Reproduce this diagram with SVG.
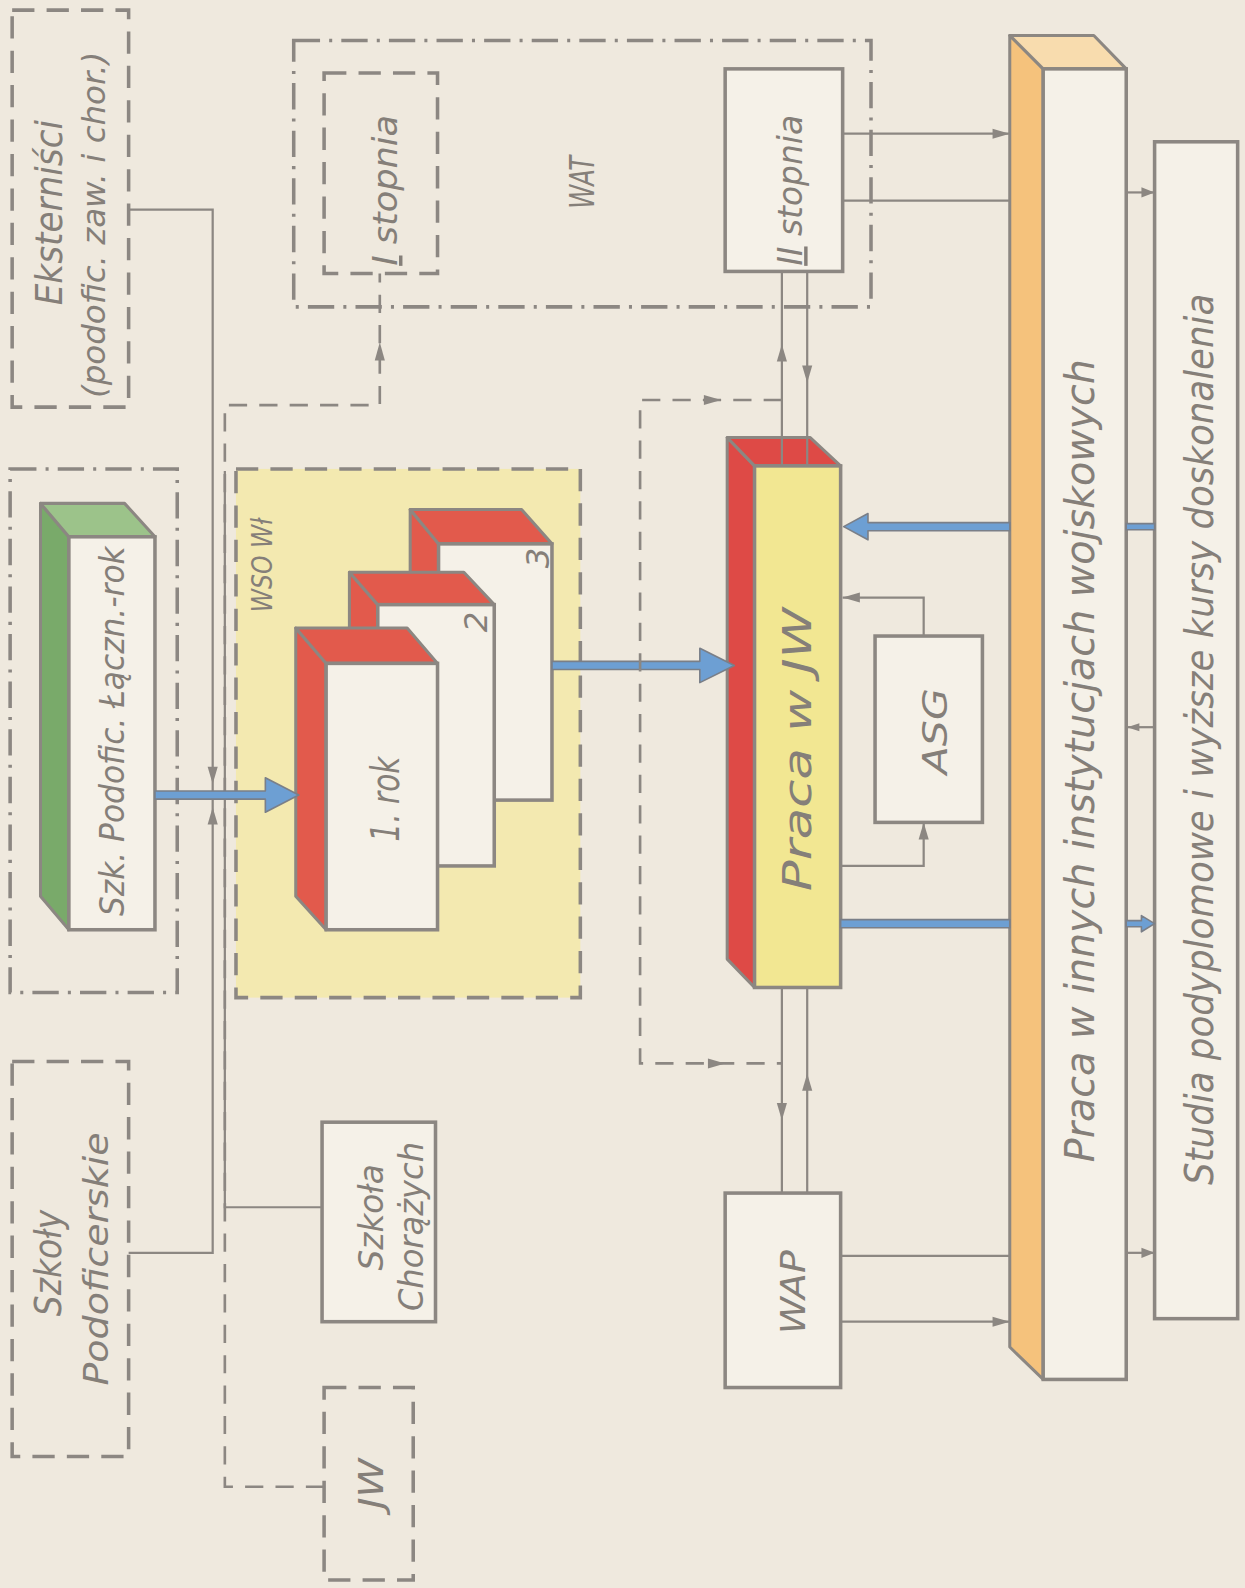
<svg xmlns="http://www.w3.org/2000/svg" width="1245" height="1588" viewBox="0 0 1245 1588">
<defs>
<style>
.bx{fill:none;stroke:#8c8782;stroke-width:3.5}
.sb{fill:#f5f1e8;stroke:#8c8782;stroke-width:3.5}
.dash{stroke-dasharray:22 12}
.dd{stroke-dasharray:26 9 3 9}
.ln{fill:none;stroke:#8c8782;stroke-width:2.2}
.dl{fill:none;stroke:#8c8782;stroke-width:2.6;stroke-dasharray:18 12}
.ah{fill:#8c8782}
.blue{fill:#6d9fd3;stroke:#7a7f88;stroke-width:1.6;stroke-linejoin:round}
.red{fill:#e25a4c;stroke:#8c8782;stroke-width:3;stroke-linejoin:round}
.t{font-family:"DejaVu Sans","Liberation Sans",sans-serif;font-style:italic;font-weight:200;fill:#857f79}
</style>
</defs>
<rect width="1245" height="1588" fill="#efe9de"/>
<g transform="scale(1.0128)">

<g id="eksternisci">
<rect class="bx dash" x="12" y="10" width="115" height="392"/>
<text class="t" font-size="36" text-anchor="middle" textLength="183" lengthAdjust="spacingAndGlyphs" transform="translate(61,210) rotate(-90)">Eksterniści</text>
<text class="t" font-size="32" text-anchor="middle" textLength="342" lengthAdjust="spacingAndGlyphs" transform="translate(104,222) rotate(-90)">(podofic. zaw. i chor.)</text>
</g>

<g id="szkoly-podoficerskie">
<rect class="bx dash" x="12" y="1048" width="115" height="390"/>
<text class="t" font-size="36" text-anchor="middle" textLength="105" lengthAdjust="spacingAndGlyphs" transform="translate(60,1247) rotate(-90)">Szkoły</text>
<text class="t" font-size="33" text-anchor="middle" textLength="250" lengthAdjust="spacingAndGlyphs" transform="translate(107,1243) rotate(-90)">Podoficerskie</text>
</g>

<g id="szk-podofic">
<rect class="bx dd" x="10" y="463" width="165" height="517"/>
<polygon points="40,497 68,530 68,918 40,885" fill="#79aa6a" stroke="#8c8782" stroke-width="3" stroke-linejoin="round"/>
<polygon points="40,497 123,497 153,530 68,530" fill="#9cc38a" stroke="#8c8782" stroke-width="3" stroke-linejoin="round"/>
<rect class="sb" x="68" y="530" width="85" height="388"/>
<text class="t" font-size="33" text-anchor="middle" textLength="365" lengthAdjust="spacingAndGlyphs" transform="translate(122,722) rotate(-90)">Szk. Podofic. Łączn.-rok</text>
</g>

<g id="wso">
<rect x="233" y="463" width="340" height="522" fill="#f5e89c" fill-opacity="0.7"/>
<rect class="bx dash" x="233" y="463" width="340" height="522" stroke-width="3"/>
<text class="t" font-size="28" font-weight="bold" text-anchor="middle" textLength="93" lengthAdjust="spacingAndGlyphs" transform="translate(269,558) rotate(-90)">WSO Wł</text>
</g>

<g id="rok3">
<polygon class="red" points="405,503 433,537 433,790 405,757"/>
<polygon class="red" points="405,503 515,503 545,537 433,537"/>
<rect class="sb" x="433" y="537" width="112" height="253"/>
<text class="t" font-size="32" text-anchor="middle" transform="translate(542,551) rotate(-90)">3</text>
</g>
<g id="rok2">
<polygon class="red" points="345,565 373,597 373,855 345,822"/>
<polygon class="red" points="345,565 458,565 488,597 373,597"/>
<rect class="sb" x="373" y="597" width="115" height="258"/>
<text class="t" font-size="32" text-anchor="middle" transform="translate(481,614) rotate(-90)">2</text>
</g>
<g id="rok1">
<polygon class="red" points="292,620 322,655 322,918 292,885"/>
<polygon class="red" points="292,620 402,620 432,655 322,655"/>
<rect class="sb" x="322" y="655" width="110" height="263"/>
<text class="t" font-size="38" text-anchor="middle" textLength="84" lengthAdjust="spacingAndGlyphs" transform="translate(394,789) rotate(-90)">1. rok</text>
</g>

<g id="wat">
<rect class="bx dd" x="290" y="40" width="570" height="263" stroke-width="3"/>
<text class="t" font-size="34" text-anchor="middle" textLength="52" lengthAdjust="spacingAndGlyphs" transform="translate(586,180) rotate(-90)">WAT</text>
</g>
<g id="i-stopnia">
<rect class="bx dash" x="320" y="72" width="112" height="198"/>
<text class="t" font-size="34" text-anchor="middle" textLength="149" lengthAdjust="spacingAndGlyphs" transform="translate(392,188) rotate(-90)"><tspan text-decoration="underline">I</tspan> stopnia</text>
</g>
<g id="ii-stopnia">
<rect class="sb" x="716" y="68" width="116" height="200"/>
<text class="t" font-size="34" text-anchor="middle" textLength="149" lengthAdjust="spacingAndGlyphs" transform="translate(792,188) rotate(-90)"><tspan text-decoration="underline">II</tspan> stopnia</text>
</g>

<g id="praca-jw">
<polygon points="718,432 745,460 745,975 718,947" fill="#de4a46" stroke="#8c8782" stroke-width="3" stroke-linejoin="round"/>
<polygon points="718,432 800,432 830,460 745,460" fill="#de4a46" stroke="#8c8782" stroke-width="3" stroke-linejoin="round"/>
<rect x="745" y="460" width="85" height="515" fill="#f2e792" stroke="#8c8782" stroke-width="3.5"/>
<text class="t" font-size="38" text-anchor="middle" textLength="280" lengthAdjust="spacingAndGlyphs" transform="translate(801,740) rotate(-90)">Praca  w  JW</text>
</g>

<g id="asg">
<rect class="sb" x="864" y="628" width="106" height="184"/>
<text class="t" font-size="34" text-anchor="middle" textLength="85" lengthAdjust="spacingAndGlyphs" transform="translate(935,722) rotate(-90)">ASG</text>
</g>

<g id="wap">
<rect class="sb" x="716" y="1178" width="114" height="192"/>
<text class="t" font-size="34" text-anchor="middle" textLength="83" lengthAdjust="spacingAndGlyphs" transform="translate(795,1276) rotate(-90)">WAP</text>
</g>

<g id="szkola-chorazych">
<rect class="sb" x="318" y="1108" width="112" height="197"/>
<text class="t" font-size="34" text-anchor="middle" textLength="105" lengthAdjust="spacingAndGlyphs" transform="translate(378,1202) rotate(-90)">Szkoła</text>
<text class="t" font-size="34" text-anchor="middle" textLength="167" lengthAdjust="spacingAndGlyphs" transform="translate(418,1211) rotate(-90)">Chorążych</text>
</g>

<g id="jw">
<rect class="bx dash" x="320" y="1370" width="88" height="190"/>
<text class="t" font-size="34" text-anchor="middle" textLength="50" lengthAdjust="spacingAndGlyphs" transform="translate(378,1465) rotate(-90)">JW</text>
</g>

<g id="praca-inne">
<polygon points="997,35 1030,68 1030,1362 997,1330" fill="#f5c27c" stroke="#8c8782" stroke-width="3" stroke-linejoin="round"/>
<polygon points="997,35 1080,35 1112,68 1030,68" fill="#f8dcae" stroke="#8c8782" stroke-width="3" stroke-linejoin="round"/>
<rect class="sb" x="1030" y="68" width="82" height="1294"/>
<text class="t" font-size="40" text-anchor="middle" textLength="793" lengthAdjust="spacingAndGlyphs" transform="translate(1080,751) rotate(-90)">Praca  w  innych  instytucjach  wojskowych</text>
</g>

<g id="studia">
<rect class="sb" x="1140" y="140" width="82" height="1162"/>
<text class="t" font-size="38" text-anchor="middle" textLength="880" lengthAdjust="spacingAndGlyphs" transform="translate(1198,730) rotate(-90)">Studia  podyplomowe  i  wyższe  kursy  doskonalenia</text>
</g>

<g id="connectors">
<path class="ln" d="M127,207 H210 V785"/>
<path class="ln" d="M127,1237 H210 V785"/>
<polygon class="ah" points="210,774 205,757 215,757"/>
<polygon class="ah" points="210,797 205,814 215,814"/>
<path class="ln" d="M318,1192 H222 V465"/>
<path class="dl" d="M320,1468 H222 V400 H375 V270"/>
<polygon class="ah" points="375,338 370,356 380,356"/>

<polygon class="blue" points="153,781 262,781 262,768 295,785 262,802 262,789 153,789"/>
<polygon class="blue" points="545,653 691,653 691,640 725,657 691,674 691,661 545,661"/>
<polygon class="blue" points="997,516 857,516 857,507 833,520 857,533 857,524 997,524"/>
<polygon class="blue" points="830,908 997,908 997,916 830,916"/>
<polygon class="blue" points="1112,517 1140,517 1140,523 1112,523"/>
<polygon class="blue" points="1112,909 1127,909 1127,904 1140,912 1127,920 1127,915 1112,915"/>

<path class="ln" d="M832,132 H997"/>
<polygon class="ah" points="997,132 980,127 980,137"/>
<path class="ln" d="M832,198 H997"/>
<path class="ln" d="M772,460 V268"/>
<polygon class="ah" points="772,340 767,357 777,357"/>
<path class="ln" d="M797,268 V460"/>
<polygon class="ah" points="797,378 792,361 802,361"/>

<path class="dl" d="M772,395 H632 V1050 H772" stroke-width="2.4"/>
<polygon class="ah" points="712,395 695,390 695,400"/>
<polygon class="ah" points="716,1050 699,1045 699,1055"/>

<path class="ln" d="M772,975 V1178"/>
<polygon class="ah" points="772,1106 767,1089 777,1089"/>
<path class="ln" d="M797,1178 V975"/>
<polygon class="ah" points="797,1060 792,1077 802,1077"/>

<path class="ln" d="M912,628 V590 H832"/>
<polygon class="ah" points="832,590 849,585 849,595"/>
<path class="ln" d="M830,855 H912 V812"/>
<polygon class="ah" points="912,812 907,829 917,829"/>

<path class="ln" d="M830,1240 H997"/>
<path class="ln" d="M830,1305 H997"/>
<polygon class="ah" points="997,1305 980,1300 980,1310"/>

<path class="ln" d="M1112,190 H1140"/>
<polygon class="ah" points="1140,190 1127,185 1127,195"/>
<path class="ln" d="M1112,718 H1140"/>
<polygon class="ah" points="1113,718 1125,714 1125,722"/>
<path class="ln" d="M1112,1237 H1140"/>
<polygon class="ah" points="1140,1237 1127,1232 1127,1242"/>
</g>
</g>
</svg>
